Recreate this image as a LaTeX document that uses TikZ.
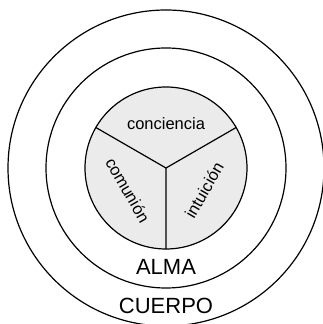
\documentclass[tikz,border=0pt]{standalone}
\usepackage{fontspec}
\setmainfont{Liberation Sans}
\definecolor{corefill}{RGB}{235,235,235}
\begin{document}
\begin{tikzpicture}[x=1pt,y=1pt,
	ring/.style = {draw, circle, line width=1.2pt, inner sep=0pt, outer sep=0pt},
	part/.style = {font=\fontsize{16.5}{18}\selectfont},
	level/.style = {font=\fontsize{22}{24}\selectfont, anchor=base}]
	\useasboundingbox (-166,-156) rectangle (157,168);
	\node[ring, minimum size=316pt] (cuerpo) at (0,0) {};
	\node[ring, minimum size=240pt] (alma) at (0,0) {};
	\node[ring, minimum size=162pt, fill=corefill] (core) at (0,0) {};

	\draw[line width=1.2pt] (core.center) to (core.150)
	(core.center) to (core.30)
	(core.center) to (core.270);

	\node[part] (conciencia) at (90:44) {conciencia};
	\node[part, rotate=-60] (comunion) at (210:44) {comunión};
	\node[part, rotate=60] (intuicion) at (330:44) {intuición};
	\node[level] (almalabel) at (0,-106) {ALMA};
	\node[level] (cuerpolabel) at (0,-145) {CUERPO};
\end{tikzpicture}
\end{document}
